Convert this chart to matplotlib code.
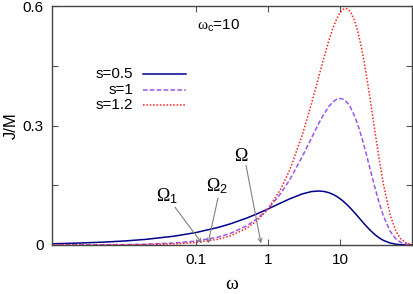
import matplotlib
matplotlib.use("Agg")
import matplotlib.pyplot as plt
from matplotlib.ticker import FixedLocator, NullLocator, FixedFormatter

plt.rcParams['font.family'] = ['Liberation Sans', 'DejaVu Sans']
plt.rcParams['mathtext.fontset'] = 'custom'
plt.rcParams['mathtext.rm'] = 'Liberation Serif'
plt.rcParams['mathtext.it'] = 'Liberation Serif'
plt.rcParams['mathtext.sf'] = 'Liberation Sans'

omega = [0.001, 0.002, 0.005, 0.01, 0.02, 0.05, 0.1, 0.2, 0.3, 0.5, 0.7, 1, 1.5, 2, 3, 4,
         5, 6, 7, 8, 9, 10, 11, 12, 13, 14, 16, 18, 20, 23, 26, 30, 35, 40, 50, 60, 70, 85, 100]
J_s05 = [0.00316, 0.00447, 0.00707, 0.00999, 0.0141, 0.0222, 0.0313, 0.0438, 0.0531, 0.0673,
         0.0780, 0.0905, 0.1054, 0.1158, 0.1283, 0.1341, 0.1356, 0.1344, 0.1314, 0.1270, 0.1220,
         0.1163, 0.1104, 0.1043, 0.0983, 0.0924, 0.0808, 0.0701, 0.0605, 0.0480, 0.0379, 0.0273,
         0.0179, 0.0116, 0.0048, 0.0019, 0.0008, 0.0002, 0.00005]
J_s1 = [0.0001, 0.0002, 0.0005, 0.001, 0.002, 0.005, 0.0099, 0.0196, 0.0291, 0.0476, 0.0652,
        0.0905, 0.1292, 0.1637, 0.2222, 0.2681, 0.3033, 0.3293, 0.3476, 0.3595, 0.3659, 0.3679,
        0.3662, 0.3614, 0.3542, 0.3452, 0.3230, 0.2975, 0.2707, 0.2306, 0.1931, 0.1494, 0.1057,
        0.0733, 0.0337, 0.0149, 0.0064, 0.0017, 0.0005]
J_s12 = [0.000025, 0.000058, 0.000173, 0.000398, 0.000915, 0.00273, 0.00625, 0.0142, 0.0229,
         0.0414, 0.0607, 0.0905, 0.1401, 0.1880, 0.2768, 0.3538, 0.4185, 0.4712, 0.5130, 0.5449,
         0.5678, 0.5831, 0.5916, 0.5941, 0.5916, 0.5852, 0.5624, 0.5303, 0.4928, 0.4318, 0.3705,
         0.2950, 0.2152, 0.1533, 0.0737, 0.0338, 0.0150, 0.0041, 0.0011]

labels = ['s=0.5', 's=1', 's=1.2']
colors = ['#00008b', '#9955ee', '#ff2020']
styles = ['-', (0, (3, 1.5)), (0, (1, 1.2))]

xticks = [0.1, 1, 10]
xticklabels = ['0.1', '1', '10']
yticks = [0, 0.15, 0.3, 0.45, 0.6]
yticklabels = ['0', '', '0.3', '', '0.6']

# annotations: (label, tip omega, tail (omega, J), text (omega, J))
ann_labels = [r'$\Omega_{\mathsf{1}}$', r'$\Omega_{\mathsf{2}}$', r'$\Omega$']
ann_tip = [0.121, 0.147, 0.80]
ann_tail = [(0.051, 0.095), (0.202, 0.118), (0.495, 0.200)]
ann_text = [(0.0395, 0.123), (0.196, 0.148), (0.42, 0.221)]

fig = plt.figure(figsize=(4.13, 2.94), dpi=100)
ax = fig.add_axes([52/413, 49/294, 360/413, 239/294])

series = [J_s05, J_s1, J_s12]
for ys, c, ls in zip(series, colors, styles):
    ax.plot(omega, ys, color=c, linestyle=ls, lw=1.1)

ax.set_xscale('log')
ax.set_xlim(0.001, 100)
ax.set_ylim(0, 0.6)
ax.xaxis.set_major_locator(FixedLocator(xticks))
ax.xaxis.set_major_formatter(FixedFormatter(xticklabels))
ax.xaxis.set_minor_locator(NullLocator())
ax.set_yticks(yticks)
ax.set_yticklabels(yticklabels)
ax.tick_params(direction='in', top=True, right=True, length=4, width=0.8,
               labelsize=11, color='#555555', pad=6)
for sp in ax.spines.values():
    sp.set_color('#444444')
    sp.set_linewidth(1.0)

ax.set_ylabel('J/M', fontsize=12, labelpad=3)
ax.set_xlabel(r'$\omega$', fontsize=14, labelpad=6)

# legend (manual, right-aligned labels)
leg_y = [0.715, 0.649, 0.586]
for lab, c, ls, yy in zip(labels, colors, styles, leg_y):
    ax.text(0.225, yy, lab, transform=ax.transAxes, ha='right', va='center', fontsize=11)
    ax.plot([0.253, 0.372], [yy, yy], transform=ax.transAxes, color=c, linestyle=ls, lw=1.1)

ax.text(0.403, 0.915, r'$\omega_{\mathsf{c}}$' + '=10', transform=ax.transAxes, ha='left',
        va='center', fontsize=11)

for lab, tip, tail, tpos in zip(ann_labels, ann_tip, ann_tail, ann_text):
    ax.annotate('', xy=(tip, 0.004), xytext=tail,
                arrowprops=dict(arrowstyle='->', color='#808080', lw=0.8,
                                shrinkA=0, shrinkB=0, mutation_scale=7))
    ax.text(tpos[0], tpos[1], lab, ha='center', va='center', fontsize=13)

fig.savefig('out.png', dpi=100)
